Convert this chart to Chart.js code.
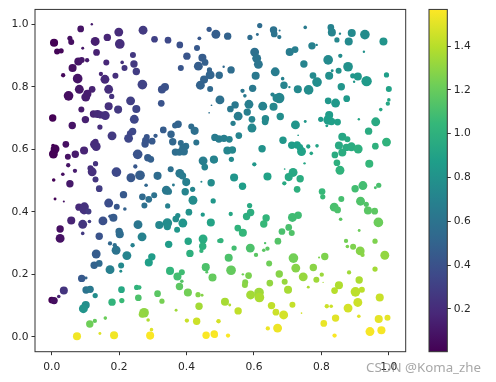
<!DOCTYPE html>
<html>
<head>
<meta charset="utf-8">
<style>
  html, body { margin: 0; padding: 0; background: #fff; overflow: hidden; }
  #wrap { position: relative; width: 496px; height: 382px; }
  canvas { position: absolute; top: 0; filter: blur(0.35px); }
  #mainChart { left: 0; }
  #colorBar { left: 420px; }
  #mark { position: absolute; left: 366px; top: 358px; font: 13.3px "Noto Sans", sans-serif; color: rgba(120, 120, 120, 0.65); white-space: nowrap; }
</style>
<script src="https://cdn.jsdelivr.net/npm/chart.js@4"></script>
</head>
<body>
<div id="wrap">
  <canvas id="mainChart" width="420" height="382"></canvas>
  <canvas id="colorBar" width="76" height="382"></canvas>
  <div id="mark">CSDN @Koma_zhe</div>
</div>
<script>
const xValues = [
  .007,.054,.058,.086,.119,.199,.271,.165,.129,.202,
  .092,.016,.028,.133,.241,.305,.345,.380,.438,.467,
  .487,.431,.401,.383,.447,.435,.455,.468,.470,.452,
  .441,.470,.079,.089,.105,.062,.034,.162,.209,.244,
  .216,.251,.146,.189,.158,.077,.082,.120,.169,.269,
  .336,.327,.050,.106,.101,.178,.234,.325,.169,.251,
  .197,.088,.003,.124,.136,.146,.159,.100,.245,.061,
  .143,.375,.366,.414,.424,.331,.354,.308,.179,.240,
  .232,.228,.282,.279,.277,.298,.359,.383,.398,.367,
  .379,.392,.390,.429,.042,.010,.005,.004,.130,.127,
  .132,.096,.070,.048,.255,.285,.294,.449,.481,.454,
  .130,.049,.069,.115,.120,.192,.248,.353,.380,.388,
  .033,.235,.262,.314,.474,.467,.130,.006,.054,.141,
  .280,.213,.269,.288,.304,.275,.340,.347,.361,.399,
  .418,.396,.444,.473,.419,.479,.010,.036,.169,.193,
  .217,.344,.081,.097,.096,.109,.058,.112,.092,.152,
  .173,.183,.407,.374,.368,.448,.472,.256,.319,.343,
  .343,.389,.372,.025,.025,.092,.141,.200,.202,.268,
  .449,.405,.347,.173,.187,.191,.240,.448,.444,.497,
  .410,.132,.223,.297,.288,.141,.126,.173,.206,.205,
  .457,.351,.386,.460,.373,.477,.386,.089,.102,.379,
  .252,.260,.102,.114,.207,.036,.314,.404,.434,.446,
  .129,.021,.000,.007,.257,.327,.208,.179,.437,.101,
  .094,.369,.274,.268,.286,.159,.128,.113,.401,.430,
  .494,.296,.075,.143,.185,.292,.458,.482,.522,.617,
  .588,.610,.658,.660,.675,.676,.752,.828,.831,.855,
  .846,.890,.929,.881,.984,.602,.608,.613,.706,.722,
  .772,.786,.926,.856,.820,.748,.879,.510,.532,.497,
  .605,.663,.685,.689,.705,.596,.566,.573,.730,.762,
  .775,.787,.823,.832,.851,.893,.908,.897,.934,.859,
  .993,1.0,1.0,.997,.499,.544,.530,.655,.675,.667,
  .585,.626,.658,.580,.553,.594,.634,.633,.678,.538,
  .594,.723,.752,.820,.842,.875,.976,.798,.823,.820,
  .830,.848,.816,.911,.961,.940,.731,.862,.877,.993,
  .960,.852,.874,.889,.909,.862,.840,.846,.855,.942,
  .484,.496,.511,.527,.555,.686,.712,.728,.741,.736,
  .761,.787,.770,.624,.521,.536,.484,.533,.601,.750,
  .691,.716,.703,.640,.541,.737,.566,.690,.728,.802,
  .804,.900,.923,.970,.960,.859,.916,.933,.938,.958,
  .838,.848,.587,.531,.590,.578,.636,.629,.714,.731,
  .857,.969,.552,.567,.703,.683,.712,.912,.502,.671,
  .873,.959,.633,.541,.589,.640,.629,.877,.894,.915,
  .922,.606,.525,.717,.988,.810,.793,.645,.724,.776,
  .532,.959,.882,.801,.567,.584,.675,.746,.785,.912,
  .691,.574,.573,.647,.852,.761,.701,.839,.920,.901,
  .615,.616,.590,.973,.514,.528,.908,.652,.714,.816,
  .829,.879,.553,.665,.688,.741,.911,.842,.970,.996,
  .495,.807,.641,.670,.944,.978,.484,.523,.839,.805,
];
const yValues = [
  .941,.955,.943,.985,1.0,.975,.981,.958,.945,.937,
  .923,.913,.915,.910,.902,.952,.949,.934,.955,.984,
  .968,.924,.898,.860,.893,.866,.878,.854,.838,.823,
  .805,.793,.881,.886,.885,.860,.837,.878,.878,.873,
  .860,.849,.841,.835,.824,.826,.792,.792,.792,.807,
  .799,.791,.771,.778,.767,.769,.755,.747,.738,.729,
  .727,.727,.700,.713,.713,.710,.708,.695,.696,.676,
  .671,.680,.676,.673,.659,.662,.648,.643,.643,.657,
  .651,.635,.639,.628,.617,.626,.624,.620,.610,.591,
  .591,.593,.603,.622,.616,.601,.585,.612,.624,.616,
  .609,.596,.584,.576,.584,.573,.568,.563,.567,.543,
  .554,.549,.531,.539,.528,.527,.545,.536,.523,.515,
  .520,.509,.517,.515,.741,.717,.503,.502,.490,.474,
  .485,.455,.448,.440,.453,.420,.469,.465,.486,.495,
  .472,.464,.496,.493,.437,.435,.441,.433,.428,.416,
  .409,.419,.415,.416,.406,.401,.372,.369,.360,.371,
  .386,.381,.399,.388,.377,.391,.366,.359,.358,.364,
  .353,.364,.343,.345,.315,.331,.322,.337,.328,.320,
  .313,.306,.296,.299,.293,.277,.293,.290,.275,.307,
  .267,.265,.260,.256,.238,.235,.229,.215,.228,.210,
  .223,.211,.207,.207,.193,.190,.178,.187,.188,.161,
  .158,.158,.150,.152,.151,.148,.138,.142,.135,.133,
  .132,.129,.118,.116,.125,.114,.116,.111,.098,.102,
  .090,.085,.077,.072,.054,.060,.051,.041,.052,.050,
  .050,.023,.002,.011,.005,.004,.005,.009,.962,.996,
  .958,.967,.982,.969,.959,.980,.990,.990,.974,.970,
  .950,.972,.967,.945,.945,.911,.891,.872,.911,.919,
  .931,.934,.912,.899,.886,.873,.864,.864,.854,.837,
  .835,.848,.826,.805,.799,.795,.787,.771,.792,.790,
  .836,.815,.835,.851,.851,.835,.833,.816,.818,.800,
  .838,.793,.758,.746,.758,.742,.729,.775,.764,.764,
  .744,.738,.736,.719,.706,.696,.698,.688,.705,.683,
  .668,.678,.689,.755,.748,.762,.727,.696,.710,.694,
  .689,.687,.675,.696,.688,.658,.645,.640,.632,.623,
  .610,.612,.606,.608,.601,.590,.582,.557,.533,.554,
  .638,.633,.635,.632,.644,.629,.613,.614,.593,.606,
  .609,.611,.587,.602,.596,.598,.566,.568,.552,.555,
  .537,.526,.511,.513,.510,.506,.482,.491,.472,.465,
  .448,.474,.484,.485,.477,.441,.434,.424,.404,.402,
  .415,.406,.420,.393,.398,.385,.380,.361,.382,.389,
  .376,.366,.348,.333,.350,.337,.332,.340,.308,.306,
  .307,.306,.300,.284,.284,.282,.277,.289,.288,.275,
  .262,.262,.253,.252,.261,.257,.254,.235,.220,.222,
  .213,.217,.206,.199,.200,.196,.201,.192,.183,.182,
  .176,.175,.166,.172,.165,.159,.151,.148,.151,.144,
  .142,.126,.134,.126,.112,.102,.110,.100,.103,.098,
  .098,.092,.083,.079,.070,.076,.066,.060,.057,.061,
  .050,.043,.027,.028,.017,.021,.006,.004,.004,.174,
];
// marker area, same meaning as matplotlib's s
const sizeValues = [
  46,18,25,31,4,55,55,38,55,65,
  6,25,19,31,25,31,31,31,10,19,
  55,25,38,25,45,55,31,19,55,45,
  55,25,45,25,13,45,13,25,9,38,
  25,38,13,25,55,65,55,31,55,65,
  45,45,65,45,55,19,55,31,45,45,
  45,25,38,38,45,38,55,38,55,38,
  19,38,25,25,45,31,38,13,55,38,
  25,55,25,38,38,31,38,25,31,38,
  38,45,45,25,31,55,55,9,25,55,
  55,45,38,25,65,38,31,55,45,31,
  19,13,13,25,55,65,13,25,55,38,
  9,55,65,45,2,2,25,9,38,31,
  9,38,31,31,25,25,55,31,6,45,
  19,38,3,38,55,19,6,3,55,25,
  9,19,38,55,55,25,45,9,55,55,
  9,45,31,19,31,13,45,55,45,65,
  38,55,25,38,55,9,38,38,45,55,
  55,38,38,13,13,55,13,38,13,13,
  38,55,55,38,45,31,38,55,25,6,
  45,45,25,6,45,45,9,38,6,38,
  19,13,38,38,31,45,31,45,19,6,
  19,9,31,38,31,19,19,38,38,45,
  55,6,65,31,9,9,13,38,13,38,
  9,9,45,6,45,45,38,38,38,19,
  19,6,38,31,13,3,9,31,45,4,
  19,45,65,45,45,55,55,55,45,31,
  38,4,4,13,65,38,65,4,38,38,
  45,55,9,38,4,38,13,9,45,65,
  31,65,45,6,25,19,45,4,75,38,
  19,25,9,13,55,38,31,13,75,45,
  55,55,45,38,55,31,38,31,38,19,
  55,55,6,31,55,31,9,19,45,65,
  38,31,6,4,55,38,2,45,25,55,
  31,45,38,55,55,45,31,31,55,45,
  38,38,38,31,31,38,38,38,55,31,
  13,9,9,38,45,38,25,19,13,4,
  2,55,45,45,45,38,38,13,31,31,
  19,38,55,19,6,25,55,19,45,31,
  55,31,19,13,38,38,38,38,55,38,
  9,65,31,45,31,31,25,6,19,31,
  13,19,4,19,55,13,9,9,25,55,
  13,13,45,65,55,38,3,25,55,38,
  65,19,13,13,4,31,38,55,25,38,
  25,25,25,31,45,6,45,31,25,65,
  65,65,55,45,45,6,55,38,25,13,
  9,55,38,31,55,2,9,38,45,25,
  13,31,13,55,55,45,25,13,13,1,
];
const colorValues = [
  .01,.06,.06,.09,.12,.20,.27,.17,.14,.21,
  .10,.02,.03,.15,.26,.31,.35,.39,.43,.44,
  .47,.44,.42,.42,.46,.47,.48,.50,.51,.50,
  .50,.53,.09,.10,.12,.07,.04,.18,.23,.27,
  .25,.29,.17,.22,.19,.09,.10,.15,.21,.32,
  .40,.39,.06,.13,.13,.23,.30,.41,.22,.33,
  .26,.12,.01,.17,.19,.20,.22,.14,.34,.09,
  .21,.50,.50,.55,.57,.46,.50,.45,.27,.35,
  .34,.34,.42,.42,.42,.44,.52,.55,.58,.56,
  .57,.58,.57,.60,.07,.02,.01,.01,.21,.20,
  .21,.16,.12,.08,.41,.46,.48,.67,.70,.70,
  .23,.09,.13,.21,.22,.35,.43,.58,.63,.65,
  .06,.43,.47,.55,.57,.58,.25,.01,.11,.29,
  .52,.44,.54,.58,.59,.58,.63,.64,.64,.68,
  .72,.71,.73,.76,.76,.83,.02,.08,.38,.43,
  .49,.69,.19,.23,.23,.27,.16,.29,.25,.39,
  .42,.45,.80,.77,.77,.85,.91,.62,.73,.76,
  .77,.82,.83,.07,.08,.27,.41,.54,.55,.70,
  .96,.92,.86,.52,.57,.60,.69,.99,1.02,1.02,
  .99,.46,.71,.86,.88,.54,.50,.68,.74,.77,
  1.12,1.03,1.08,1.15,1.09,1.19,1.14,.44,.50,1.17,
  1.01,1.03,.60,.64,.94,.24,1.16,1.23,1.27,1.28,
  .77,.16,.01,.06,1.12,1.24,1.06,1.02,1.35,.78,
  .81,1.34,1.30,1.31,1.38,1.21,1.19,1.22,1.44,1.45,
  1.47,1.49,1.54,1.49,1.54,1.56,1.56,1.55,.50,.55,
  .55,.56,.59,.60,.61,.60,.65,.70,.71,.72,
  .73,.74,.76,.75,.81,.58,.60,.61,.66,.67,
  .69,.70,.79,.76,.75,.71,.79,.53,.56,.54,
  .63,.66,.69,.71,.72,.64,.62,.64,.74,.77,
  .75,.77,.78,.77,.79,.82,.83,.83,.85,.82,
  .87,.90,.92,.93,.58,.63,.63,.70,.72,.72,
  .67,.70,.73,.68,.66,.71,.74,.74,.77,.67,
  .73,.82,.83,.83,.84,.85,.93,.85,.86,.87,
  .88,.89,.88,.92,.95,.96,.85,.93,.95,1.01,
  1.00,.95,.96,.97,.99,.97,.96,.99,1.01,1.04,
  .65,.66,.68,.70,.71,.83,.86,.87,.90,.88,
  .90,.91,.92,.80,.72,.73,.71,.75,.83,.93,
  .91,.94,.94,.90,.82,.97,.87,.95,.99,1.05,
  1.06,1.09,1.09,1.11,1.11,1.10,1.13,1.14,1.16,1.17,
  1.11,1.12,.95,.93,.98,.98,1.03,1.05,1.08,1.08,
  1.16,1.21,1.01,1.04,1.11,1.11,1.13,1.21,1.02,1.14,
  1.23,1.26,1.13,1.09,1.12,1.16,1.16,1.25,1.26,1.28,
  1.29,1.16,1.12,1.23,1.31,1.26,1.26,1.22,1.28,1.29,
  1.19,1.35,1.34,1.33,1.23,1.25,1.28,1.32,1.34,1.37,
  1.32,1.27,1.29,1.31,1.38,1.37,1.36,1.40,1.41,1.41,
  1.34,1.37,1.35,1.44,1.36,1.38,1.45,1.42,1.43,1.45,
  1.45,1.47,1.42,1.45,1.47,1.47,1.50,1.50,1.51,1.51,
  1.47,1.52,1.53,1.53,1.55,1.55,1.56,1.56,1.56,1.36,
];
const xTicks = [0, 0.2, 0.4, 0.6, 0.8, 1.0];
const yTicks = [0, 0.2, 0.4, 0.6, 0.8, 1.0];
const barTicks = [0.2, 0.4, 0.6, 0.8, 1.0, 1.2, 1.4];
const colorMin = 0.004;
const colorMax = 1.568;
const viridis = ['#440154', '#482878', '#3e4989', '#31688e', '#26828e', '#1f9e89', '#35b779', '#6ece58', '#b5de2b', '#fde725'];

const tickFont = { family: 'DejaVu Sans', size: 10.7 };
const tickColor = '#262626';

function hexToRgb(hex) {
  return [1, 3, 5].map((i) => parseInt(hex.slice(i, i + 2), 16));
}

function colorFor(value) {
  const t = Math.min(1, Math.max(0, (value - colorMin) / (colorMax - colorMin))) * (viridis.length - 1);
  const i = Math.min(viridis.length - 2, Math.floor(t));
  const a = hexToRgb(viridis[i]);
  const b = hexToRgb(viridis[i + 1]);
  const mix = a.map((v, k) => Math.round(v + (b[k] - v) * (t - i)));
  return `rgb(${mix.join(',')})`;
}

// closes the box round the plot area
const frame = {
  id: 'frame',
  afterDraw(chart) {
    const { ctx, chartArea: a } = chart;
    ctx.save();
    ctx.strokeStyle = '#333';
    ctx.lineWidth = 1;
    ctx.strokeRect(a.left, a.top, a.right - a.left, a.bottom - a.top);
    ctx.restore();
  },
};

const tickAxis = (ticks, padding) => ({
  afterBuildTicks(scale) {
    scale.ticks = ticks.map((value) => ({ value }));
  },
  grid: { drawOnChartArea: false, drawTicks: true, tickLength: 3.5, tickColor: '#333', tickWidth: 1 },
  border: { display: false },
  ticks: {
    font: tickFont,
    color: tickColor,
    padding,
    maxRotation: 0,
    autoSkip: false,
    callback: (value) => Number(value).toFixed(1),
  },
});

new Chart(document.getElementById('mainChart'), {
  type: 'bubble',
  data: {
    datasets: [
      {
        data: xValues.map((x, i) => ({ x, y: yValues[i], r: Math.sqrt(sizeValues[i]) * 0.6 })),
        backgroundColor: colorValues.map(colorFor),
        borderWidth: 0,
        hoverBorderWidth: 0,
      },
    ],
  },
  plugins: [frame],
  options: {
    responsive: false,
    animation: false,
    layout: { padding: { left: 0, top: 9.3, right: 14.3, bottom: 0 } },
    plugins: { legend: { display: false }, tooltip: { enabled: false } },
    scales: {
      x: {
        type: 'linear',
        min: -0.0495,
        max: 1.05,
        ...tickAxis(xTicks, 6),
        afterFit(scale) {
          scale.height = 30.3;
        },
      },
      y: {
        type: 'linear',
        min: -0.0475,
        max: 1.0475,
        ...tickAxis(yTicks, 3),
        afterFit(scale) {
          scale.width = 35;
        },
      },
    },
  },
});

new Chart(document.getElementById('colorBar'), {
  type: 'bar',
  data: {
    labels: [''],
    datasets: [
      {
        data: [[colorMin, colorMax]],
        barPercentage: 1,
        categoryPercentage: 1,
        borderWidth: 0,
        borderSkipped: false,
        backgroundColor(context) {
          const { ctx, chartArea } = context.chart;
          if (!chartArea) return viridis[0];
          const gradient = ctx.createLinearGradient(0, chartArea.bottom, 0, chartArea.top);
          viridis.forEach((c, i) => gradient.addColorStop(i / (viridis.length - 1), c));
          return gradient;
        },
      },
    ],
  },
  plugins: [frame],
  options: {
    responsive: false,
    animation: false,
    layout: { padding: { left: 9, top: 9.3, right: 0, bottom: 30.3 } },
    plugins: { legend: { display: false }, tooltip: { enabled: false } },
    scales: {
      x: { display: false },
      y: {
        position: 'right',
        min: colorMin,
        max: colorMax,
        ...tickAxis(barTicks, 3),
        afterFit(scale) {
          scale.width = 48.7;
        },
      },
    },
  },
});
</script>
</body>
</html>
